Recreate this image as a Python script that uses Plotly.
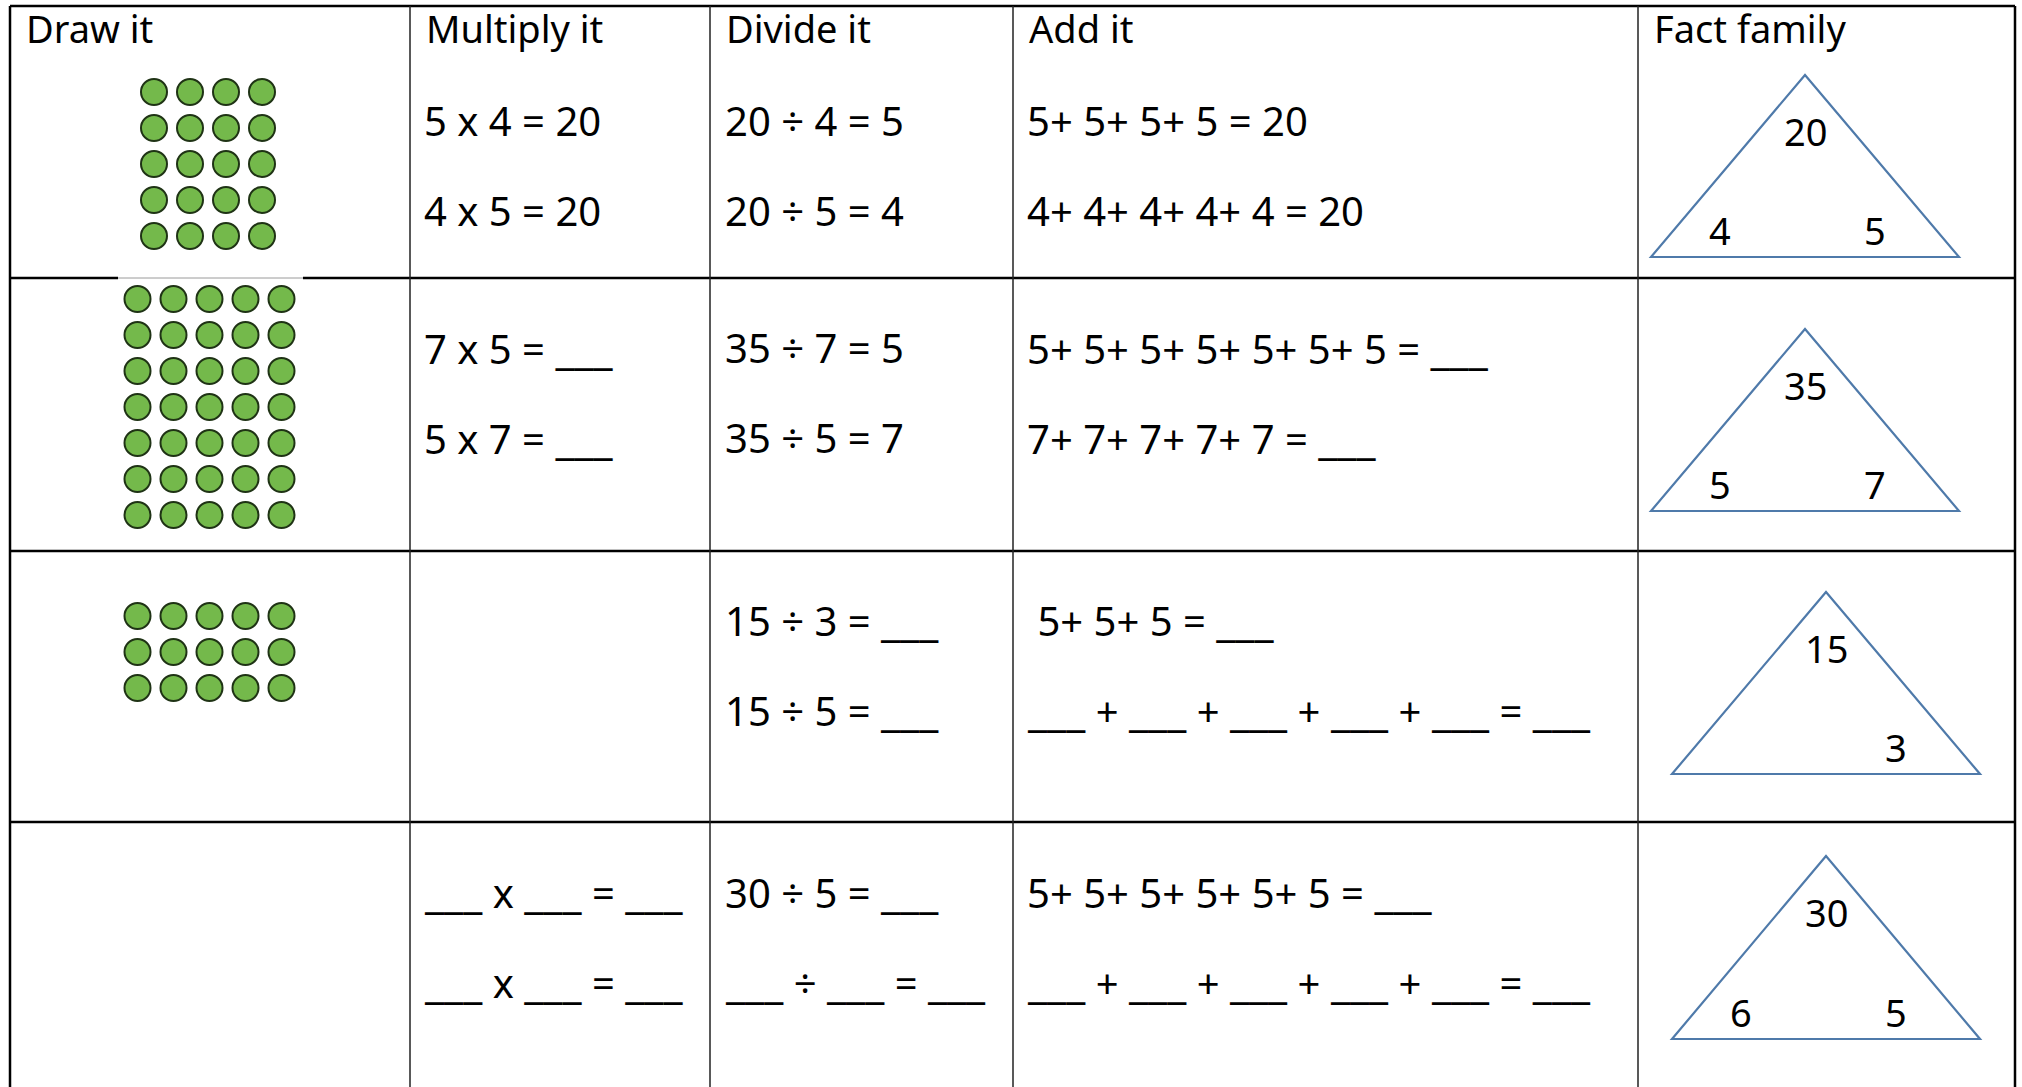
import plotly.graph_objects as go

W, H = 2022, 1087
FONT = "Noto Sans"
FS_HEAD = 38
FS = 40
BLANK_FS = 43

# table grid
col_edges = [10, 410, 710, 1013, 1638, 2015]
row_edges = [6, 278, 551, 822]
headers = ["Draw it", "Multiply it", "Divide it", "Add it", "Fact family"]

# equation texts per row: (multiply, divide, add) two lines each
multiply = [["5 x 4 = 20", "4 x 5 = 20"],
            ["7 x 5 = ___", "5 x 7 = ___"],
            ["", ""],
            ["___ x ___ = ___", "___ x ___ = ___"]]
divide = [["20 ÷ 4 = 5", "20 ÷ 5 = 4"],
          ["35 ÷ 7 = 5", "35 ÷ 5 = 7"],
          ["15 ÷ 3 = ___", "15 ÷ 5 = ___"],
          ["30 ÷ 5 = ___", "___ ÷ ___ = ___"]]
add = [["5+ 5+ 5+ 5 = 20", "4+ 4+ 4+ 4+ 4 = 20"],
       ["5+ 5+ 5+ 5+ 5+ 5+ 5 = ___", "7+ 7+ 7+ 7+ 7 = ___"],
       [" 5+ 5+ 5 = ___", "___ + ___ + ___ + ___ + ___ = ___"],
       ["5+ 5+ 5+ 5+ 5+ 5 = ___", "___ + ___ + ___ + ___ + ___ = ___"]]
line_y = [[120, 210], [347, 437], [619, 709], [891, 981]]

# fact family triangles: top, left, right labels
tri_top = ["20", "35", "15", "30"]
tri_left = ["4", "5", "", "6"]
tri_right = ["5", "7", "3", "5"]
tri_apex = [(1805, 75), (1805, 329), (1826, 592), (1826, 856)]
tri_base_y = [257, 511, 774, 1039]
tri_half = 154

# dot arrays: (columns, rows) per table row
dot_cols = [4, 5, 5]
dot_rows = [5, 7, 3]
dot_x0 = [154, 137.5, 137.5]
dot_y0 = [92, 299, 616]
dot_step = 36

fig = go.Figure()

# dots
for c, r, x0, y0 in zip(dot_cols, dot_rows, dot_x0, dot_y0):
    xs, ys = [], []
    for j in range(r):
        for i in range(c):
            xs.append(x0 + i * dot_step)
            ys.append(y0 + j * dot_step)
    fig.add_trace(go.Scatter(x=xs, y=ys, mode="markers",
                             marker=dict(size=26, color="#74b94b",
                                         line=dict(color="#1f3315", width=2)),
                             hoverinfo="skip", showlegend=False))

shapes = []
# horizontal lines
for k, y in enumerate(row_edges):
    if k == 1:
        shapes.append(dict(type="line", x0=col_edges[0], x1=118, y0=y, y1=y,
                           line=dict(color="black", width=2.5)))
        shapes.append(dict(type="line", x0=118, x1=303, y0=y, y1=y,
                           line=dict(color="#9a9a9a", width=1)))
        shapes.append(dict(type="line", x0=303, x1=col_edges[-1], y0=y, y1=y,
                           line=dict(color="black", width=2.5)))
    else:
        shapes.append(dict(type="line", x0=col_edges[0], x1=col_edges[-1], y0=y, y1=y,
                           line=dict(color="black", width=2.5)))
# vertical lines
for k, x in enumerate(col_edges):
    outer = k in (0, len(col_edges) - 1)
    shapes.append(dict(type="line", x0=x, x1=x, y0=row_edges[0], y1=H + 5,
                       line=dict(color="black" if outer else "#222222",
                                 width=2.5 if outer else 1.5)))
# triangles
for (ax, ay), by in zip(tri_apex, tri_base_y):
    path = f"M {ax - tri_half},{by} L {ax},{ay} L {ax + tri_half},{by} Z"
    shapes.append(dict(type="path", path=path,
                       line=dict(color="#4f7aaa", width=2.2)))

annotations = []


def txt(x, y, s, anchor="left", size=FS):
    s = s.replace("___", f"<span style='font-size:{BLANK_FS}px'>___</span>")
    annotations.append(dict(x=x, y=y, text=s, showarrow=False, xanchor=anchor,
                            yanchor="middle", font=dict(family=FONT, size=size, color="black")))


for i, h in enumerate(headers):
    txt(col_edges[i] + 14, 28, h, size=FS_HEAD)

for r in range(4):
    for li in range(2):
        y = line_y[r][li]
        if multiply[r][li]:
            txt(422, y, multiply[r][li])
        if divide[r][li]:
            txt(723, y, divide[r][li])
        if add[r][li]:
            txt(1025, y, add[r][li])

for r in range(4):
    ax, ay = tri_apex[r]
    by = tri_base_y[r]
    txt(ax, ay + 56, tri_top[r], "center", size=FS_HEAD)
    if tri_left[r]:
        txt(ax - 85, by - 27, tri_left[r], "center", size=FS_HEAD)
    if tri_right[r]:
        txt(ax + 70, by - 27, tri_right[r], "center", size=FS_HEAD)

fig.update_layout(
    width=W, height=H,
    margin=dict(l=0, r=0, t=0, b=0),
    paper_bgcolor="white", plot_bgcolor="white",
    xaxis=dict(range=[0, W], visible=False, fixedrange=True),
    yaxis=dict(range=[H, 0], visible=False, fixedrange=True),
    shapes=shapes, annotations=annotations,
    showlegend=False,
)

fig.write_html("out.html", config={"displayModeBar": False},
               post_script="document.body.style.margin='0px';document.body.style.overflow='hidden';")
